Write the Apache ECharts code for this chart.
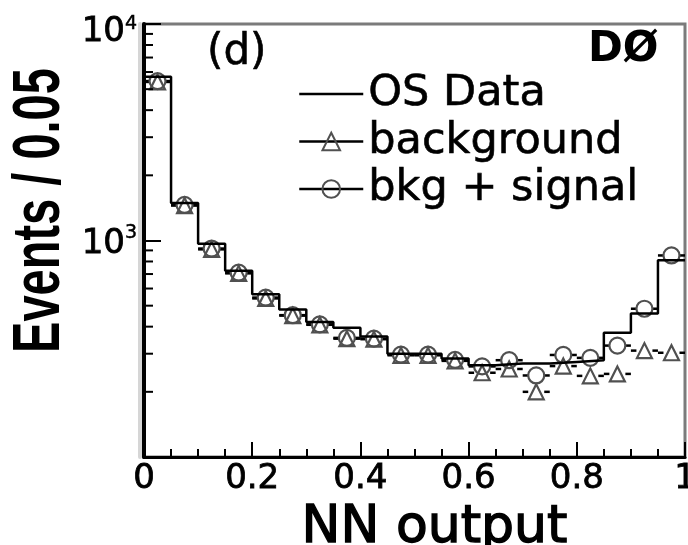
<!DOCTYPE html>
<html>
<head>
<meta charset="utf-8">
<script src="https://cdn.jsdelivr.net/npm/echarts@6/dist/echarts.min.js"></script>
<style>
  html, body { margin: 0; padding: 0; background: #fff; }
  #chart { width: 688px; height: 545px; }
</style>
</head>
<body>
<div id="chart"></div>
<script>
// NN output histogram, 20 bins of width 0.05
const binEdges   = [0, 0.05, 0.1, 0.15, 0.2, 0.25, 0.3, 0.35, 0.4, 0.45, 0.5,
                    0.55, 0.6, 0.65, 0.7, 0.75, 0.8, 0.85, 0.9, 0.95, 1];
const binCenters = [0.025, 0.075, 0.125, 0.175, 0.225, 0.275, 0.325, 0.375, 0.425, 0.475,
                    0.525, 0.575, 0.625, 0.675, 0.725, 0.775, 0.825, 0.875, 0.925, 0.975];

// OS data (histogram), expected background, background + signal
const osData     = [5700, 1490, 965, 725, 565, 480, 420, 395, 360, 300,
                    300, 285, 265, 270, 270, 275, 280, 375, 460, 810];
const background = [5400, 1450, 910, 705, 540, 450, 408, 352, 350, 295,
                    295, 278, 245, 255, 200, 263, 237, 242, 310, 303];
const bkgSignal  = [5450, 1460, 918, 710, 545, 452, 410, 355, 352, 297,
                    297, 281, 262, 280, 238, 296, 287, 327, 484, 853];

// axis ticks
const xTickLabels = ['0', '0.2', '0.4', '0.6', '0.8', '1'];
const yLabelPowers = [3, 4];
const yMinorTicks = [200, 300, 400, 500, 600, 700, 800, 900,
                     2000, 3000, 4000, 5000, 6000, 7000, 8000, 9000];

const FONT = 'DejaVu Sans';
const chart = echarts.init(document.getElementById('chart'), null, { renderer: 'canvas' });

// horizontal bin-width bars under the open markers, with a gap for the marker
function binBars(values) {
  return {
    type: 'custom',
    silent: true,
    z: 2,
    clip: true,
    data: values.map((v, i) => [binEdges[i], binEdges[i + 1], binCenters[i], v]),
    encode: { x: [0, 1], y: 3 },
    renderItem(params, api) {
      const v = api.value(3);
      const a = api.coord([api.value(0), v]);
      const b = api.coord([api.value(1), v]);
      const c = api.coord([api.value(2), v]);
      const gap = 8;
      const st = { stroke: '#000', lineWidth: 2.5 };
      return {
        type: 'group',
        children: [
          { type: 'line', shape: { x1: a[0], y1: a[1], x2: c[0] - gap, y2: c[1] }, style: st },
          { type: 'line', shape: { x1: c[0] + gap, y1: c[1], x2: b[0], y2: b[1] }, style: st }
        ]
      };
    }
  };
}

const markerStyle = { color: 'rgba(0,0,0,0)', borderColor: '#505050', borderWidth: 2.2 };

const labelRich = (size, padTop, extra) => Object.assign({
  fontFamily: FONT, fontSize: size, lineHeight: size, color: '#000',
  textBorderColor: '#000', textBorderWidth: 0.8, padding: [padTop, 0, 0, 0]
}, extra || {});

const option = {
  animation: false,
  grid: {
    show: true,
    left: 144, right: 3, top: 24, bottom: 88,
    outerBoundsMode: 'none',
    containLabel: false,
    borderColor: '#7b7b7b', borderWidth: 3,
    backgroundColor: 'transparent'
  },
  legend: {
    orient: 'vertical',
    left: 298, top: 72,
    padding: 0,
    itemWidth: 64, itemHeight: 22, itemGap: 3.5,
    selectedMode: false,
    textStyle: {
      fontFamily: FONT, fontSize: 43, lineHeight: 44, color: '#000',
      textBorderColor: '#000', textBorderWidth: 0.6
    },
    lineStyle: { color: '#000', width: 2.5, opacity: 1, type: 'solid' },
    data: ['OS Data', 'background', 'bkg + signal']
  },
  xAxis: {
    type: 'value',
    min: 0, max: 1, interval: 0.2,
    axisLine: { lineStyle: { color: '#000', width: 3 } },
    axisTick: { inside: true, length: 15, lineStyle: { color: '#000', width: 2 } },
    minorTick: { show: true, splitNumber: 4, length: 8, lineStyle: { color: '#000', width: 2 } },
    splitLine: { show: false },
    minorSplitLine: { show: false },
    axisLabel: {
      margin: 5,
      showMinLabel: true, showMaxLabel: true,
      fontFamily: FONT, fontSize: 34, color: '#000',
      textBorderColor: '#000', textBorderWidth: 0.8,
      formatter: (v) => xTickLabels[Math.round(v / 0.2)]
    },
    name: 'NN output',
    nameLocation: 'middle',
    nameGap: 43,
    nameTextStyle: {
      fontFamily: FONT, fontSize: 52, color: '#000', padding: [0, 0, 0, 40],
      textBorderColor: '#000', textBorderWidth: 1.4
    }
  },
  yAxis: {
    type: 'log',
    logBase: 10,
    min: 100, max: 10000,
    axisLine: { lineStyle: { color: '#000', width: 4, shadowColor: '#d6d6d6', shadowOffsetX: -4, shadowBlur: 0 } },
    axisTick: { inside: true, length: 17, lineStyle: { color: '#000', width: 2 } },
    splitLine: { show: false },
    axisLabel: {
      margin: 7,
      showMinLabel: true, showMaxLabel: true,
      formatter: (v) => {
        const p = Math.round(Math.log10(v));
        if (yLabelPowers.indexOf(p) < 0) return '';
        return p === 4 ? '{bt|10}{st|' + p + '}' : '{b|10}{s|' + p + '}';
      },
      rich: {
        b:  labelRich(34, 8),
        s:  labelRich(19, 0, { verticalAlign: 'top', textBorderWidth: 0.5 }),
        bt: labelRich(34, 16),
        st: labelRich(19, 8, { verticalAlign: 'top', textBorderWidth: 0.5 })
      }
    }
  },
  graphic: [
    {
      type: 'text',
      x: 41, y: 210.5,
      rotation: Math.PI / 2,
      scaleY: 1.4,
      style: {
        text: 'Events / 0.05',
        font: 'bold 47px "Liberation Sans"',
        fill: '#000',
        align: 'center',
        verticalAlign: 'middle'
      }
    },
    {
      type: 'text',
      x: 207, y: 53,
      style: {
        text: '(d)', font: '42px "DejaVu Sans"', fill: '#000',
        stroke: '#000', lineWidth: 0.6, align: 'left', verticalAlign: 'middle'
      }
    },
    {
      type: 'text',
      x: 588, y: 50.5,
      style: { text: 'DØ', font: 'bold 42px "DejaVu Sans"', fill: '#000', align: 'left', verticalAlign: 'middle' }
    }
  ],
  series: [
    // minor ticks of the log axis at 2..9 x 10^n
    {
      type: 'custom',
      silent: true,
      z: 6,
      clip: false,
      data: yMinorTicks.map((v) => [0, v]),
      encode: { x: 0, y: 1 },
      renderItem(params, api) {
        const p = api.coord([0, api.value(1)]);
        return {
          type: 'line',
          shape: { x1: p[0], y1: p[1], x2: p[0] + 9, y2: p[1] },
          style: { stroke: '#000', lineWidth: 2 }
        };
      }
    },
    binBars(background),
    binBars(bkgSignal),
    {
      name: 'background',
      type: 'line',
      silent: true,
      z: 3,
      data: background.map((v, i) => [binCenters[i], v]),
      symbol: 'triangle',
      symbolSize: 15,
      showAllSymbol: true,
      lineStyle: { opacity: 0 },
      itemStyle: markerStyle
    },
    {
      name: 'bkg + signal',
      type: 'line',
      silent: true,
      z: 3,
      data: bkgSignal.map((v, i) => [binCenters[i], v]),
      symbol: 'circle',
      symbolSize: 16,
      showAllSymbol: true,
      lineStyle: { opacity: 0 },
      itemStyle: markerStyle
    },
    {
      name: 'OS Data',
      type: 'line',
      silent: true,
      z: 5,
      step: 'end',
      symbol: 'none',
      data: binEdges.map((x, i) => [x, osData[Math.min(i, osData.length - 1)]]),
      lineStyle: { color: '#000', width: 2.5 },
      itemStyle: { color: 'rgba(0,0,0,0)' }
    }
  ]
};

chart.setOption(option);
</script>
</body>
</html>
